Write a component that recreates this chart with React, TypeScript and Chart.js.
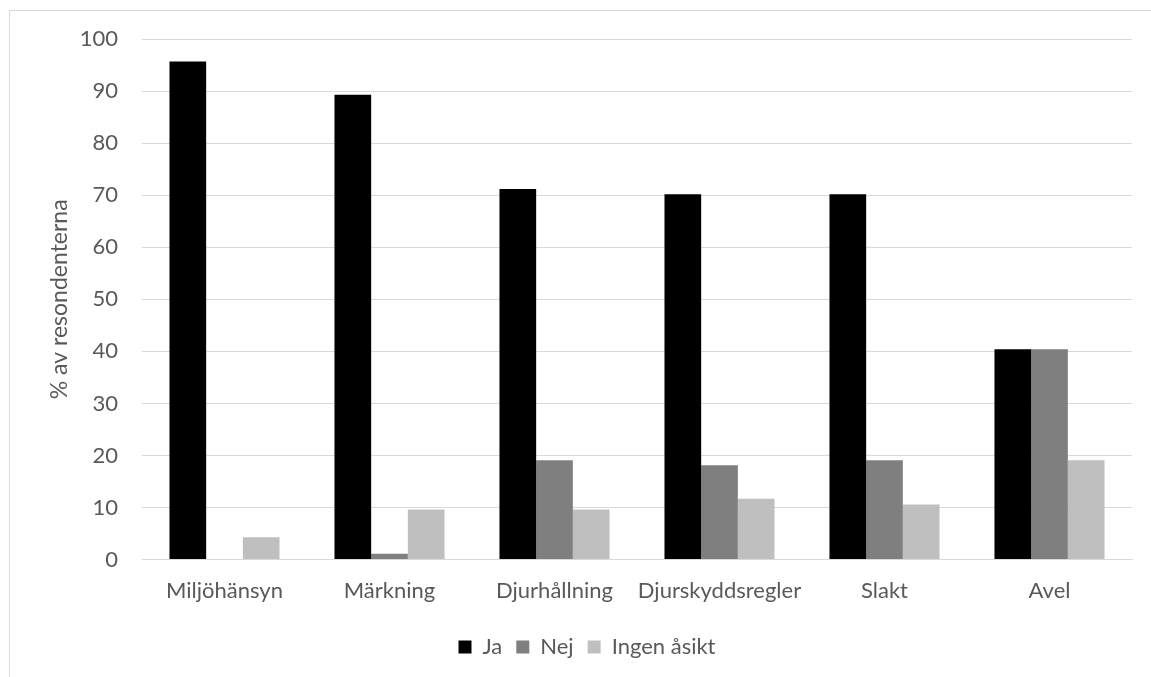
import React, { useEffect, useRef } from "react";
import { Chart, registerables } from "chart.js";

Chart.register(...registerables);

const categories = ["Miljöhänsyn", "Märkning", "Djurhållning", "Djurskyddsregler", "Slakt", "Avel"];
const jaValues = [95.7, 89.3, 71.2, 70.2, 70.2, 40.4];
const nejValues = [0, 1.1, 19.1, 18.1, 19.1, 40.4];
const ingenValues = [4.3, 9.6, 9.6, 11.7, 10.6, 19.1];
const seriesNames = ["Ja", "Nej", "Ingen åsikt"];
const seriesColors = ["#000000", "#7f7f7f", "#bfbfbf"];
const yTitle = "% av resondenterna";

const FONT = "Lato, 'Liberation Sans', sans-serif";
const TEXT = "#595959";
const GRID = "#d9d9d9";

export default function App() {
  const ref = useRef<HTMLCanvasElement | null>(null);
  useEffect(() => {
    if (!ref.current) return;
    const values = [jaValues, nejValues, ingenValues];
    const chart = new Chart(ref.current, {
      type: "bar",
      data: {
        labels: categories,
        datasets: values.map((v, i) => ({
          label: seriesNames[i],
          data: v,
          backgroundColor: seriesColors[i],
          borderWidth: 0,
          categoryPercentage: 0.667,
          barPercentage: 1.0,
        })),
      },
      options: {
        animation: false,
        responsive: false,
        maintainAspectRatio: false,
        layout: { padding: { left: 42, right: 19, top: 39, bottom: 9 } },
        plugins: {
          tooltip: { enabled: false },
          legend: {
            position: "bottom",
            labels: {
              font: { family: FONT, size: 22 },
              color: TEXT,
              boxWidth: 13,
              boxHeight: 13,
              padding: 14,
            },
          },
        },
        scales: {
          x: {
            grid: { display: false, drawTicks: false },
            border: { display: true, color: GRID, width: 1 },
            ticks: { font: { family: FONT, size: 22 }, color: TEXT, padding: 18, maxRotation: 0, autoSkip: false },
          },
          y: {
            min: 0,
            max: 100,
            afterFit: (s: any) => { s.width = 100; },
            grid: { color: GRID, lineWidth: 1, drawTicks: false },
            border: { display: false },
            ticks: { stepSize: 10, font: { family: FONT, size: 22 }, color: TEXT, padding: 24 },
            title: { display: true, text: yTitle, font: { family: FONT, size: 23 }, color: TEXT, padding: 4 },
          },
        },
      },
    });
    return () => chart.destroy();
  }, []);
  return (
    <div style={{ position: "fixed", left: 0, top: 0, width: 1151, height: 677, background: "#fff" }}>
      <div style={{ position: "absolute", left: 9, top: 10, width: 1200, height: 700, borderLeft: "1px solid #d9d9d9", borderTop: "1px solid #d9d9d9" }} />
      <canvas ref={ref} width={1151} height={677} style={{ position: "absolute", left: 0, top: 0 }} />
    </div>
  );
}
